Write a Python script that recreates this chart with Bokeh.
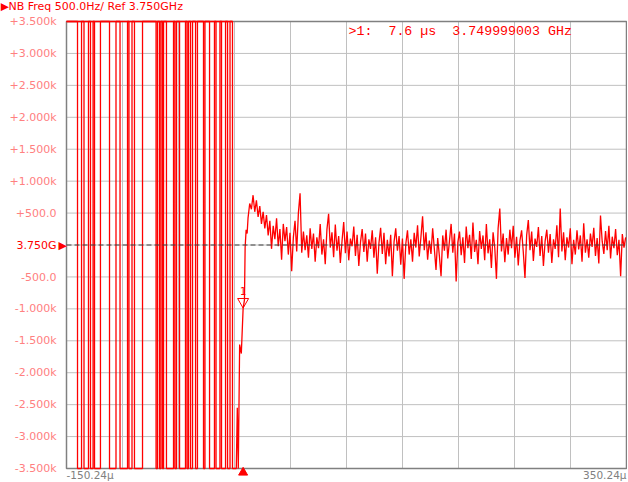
import numpy as np
from bokeh.plotting import figure
from bokeh.models import Range1d
from bokeh.core.properties import value
from bokeh.embed import file_html
from bokeh.resources import INLINE

# ---------------- data ----------------
t_start, t_end = -150.24, 350.24          # µs
hz_min, hz_max = -3500, 3500              # offset from 3.750 GHz, Hz

# times (µs) where the trace wraps between the top and bottom of the screen
wrap_t = [-140.4, -136.8, -134.6, -130.6, -128.8, -126.5, -125.2, -119.9, -111.8,
          -106.0, -102.4, -95.7, -94.4, -91.7, -89.5, -82.3, -70.2, -68.9, -67.1,
          -65.8, -64.4, -63.5, -60.9, -54.6, -53.3, -51.9, -49.2, -43.9, -42.5,
          -41.2, -39.4, -37.6, -34.9, -33.2, -27.8, -26.5, -22.4, -18.0, -16.6,
          -13.1, -11.7, -8.1, -6.3, -4.1, -1.9]

# settling step
step_t = [1.5, 2.4, 3.3, 4.5, 6.0, 7.6, 8.8, 9.4, 10.3, 11.2]
step_hz = [-3500, -2550, -3500, -1560, -1700, -997, -860, -40, 240, 180]

# settled noise, one sample every noise_step µs from noise_start
noise_start = 12.0
noise_step = 1.5
noise_hz = [
    420, 650, 560, 780, 520, 700, 440, 610, 330, 520, 260, 470, 150, 380, -60,
    300, 90, 420, -20, 250, -230, 330, 60, 280, -150, 190, -410, 120, 380, -100,
    500, 810, -120, 210, -80, 150, -200, 260, -60, 180, -260, 120, -50, 330, -150,
    90, -300, 240, 490, -40, 200, -190, 320, -90, 140, -280, 60, 360, -130, 210,
    -240, 100, -20, 290, -170, 160, -330, 40, 250, -110, 180, -260, 90, -60, 230,
    -200, 120, -450, 30, 270, -140, 190, -300, 80, -180, 160, -490, 50, 260, -90,
    140, -310, 100, -530, 20, 230, -150, 90, -260, 190, -40, 310, -180, 120, 450,
    -80, 200, -230, 70, -140, 260, -60, -390, 110, -170, -490, 150, -90, 240, -210,
    60, 330, -120, 180, -570, 40, 210, -160, 120, -280, 290, -50, 160, -220, 350,
    -110, 80, -300, 220, -60, 150, -240, 330, -130, 90, -360, 200, -40, -530, 260,
    570, -100, 180, -270, 110, -150, 240, -50, 300, -200, 130, -320, 70, 230, -110,
    -515, 150, 390, -80, 210, -250, 100, -30, 280, -170, 140, -330, 60, 240, -120,
    170, -280, 90, -60, 310, -190, 570, -100, 200, -240, 120, -40, 260, -300, 80,
    -150, 230, -70, 150, -260, 340, -120, 90, -200, 180, -30, 270, -170, 110, -290,
    460, 60, -140, 220, -80, 300, -210, 130, -50, 250, -160, 80, -490, 170, -40, 120,
]

marker_t = 7.6
marker_hz = -997

ytick_vals = [-3500, -3000, -2500, -2000, -1500, -1000, -500, 0,
              500, 1000, 1500, 2000, 2500, 3000, 3500]
ytick_labels = ["-3.500k", "-3.000k", "-2.500k", "-2.000k", "-1.500k", "-1.000k", "-500.0", "3.750G",
                "+500.0", "+1.000k", "+1.500k", "+2.000k", "+2.500k", "+3.000k", "+3.500k"]
title_text = "NB Freq 500.0Hz/ Ref 3.750GHz"
readout_text = ">1:\u00A0\u00A07.6\u00A0\u00B5s\u00A0\u00A03.749999003\u00A0GHz"
x_left_label = "-150.24\u00B5"
x_right_label = "350.24\u00B5"
n_xdiv = 10

# ---------------- layout (page pixels) ----------------
W, H = 627, 481          # figure size
ORX, ORY = 0, 0          # where the figure sits on the page
FL, FR, FT, FB = 66, 626, 21, 468   # plot area on the page
RED = "#ff0000"
PINK = "#ff8080"
GRAY = "#808080"
FONT = "DejaVu Sans"


def xd(px):
    return t_start + (px - FL) * (t_end - t_start) / (FR - FL)


def yd(py):
    return hz_max - (py - FT) * (hz_max - hz_min) / (FB - FT)


hz_per_px = (hz_max - hz_min) / (FB - FT)

# build trace
xs, ys = [t_start], [hz_max]
cur = hz_max
for t in wrap_t:
    xs.append(t); ys.append(cur)
    cur = hz_min if cur == hz_max else hz_max
    xs.append(t); ys.append(cur)
xs += step_t
ys += step_hz
noise_t = noise_start + noise_step * np.arange(len(noise_hz))
xs += list(noise_t)
ys += noise_hz

p = figure(width=W, height=H,
           x_range=Range1d(xd(ORX), xd(ORX + W)), y_range=Range1d(yd(ORY + H), yd(ORY)),
           output_backend="svg", toolbar_location=None,
           x_axis_location=None, y_axis_location=None,
           min_border=0, min_border_left=0, min_border_right=0,
           min_border_top=0, min_border_bottom=0)
p.grid.visible = False
p.outline_line_color = None
p.background_fill_color = "white"
p.border_fill_color = "white"

# grid
xgrid_ticks = [t_start + k * (t_end - t_start) / n_xdiv for k in range(n_xdiv + 1)]
p.segment(x0=xgrid_ticks, y0=hz_min, x1=xgrid_ticks, y1=hz_max, line_color="#c0c0c0", line_width=1)
p.segment(x0=t_start, y0=ytick_vals, x1=t_end, y1=ytick_vals, line_color="#c0c0c0", line_width=1)

# frame
p.quad(left=[t_start], right=[t_end], bottom=[hz_min], top=[hz_max],
       fill_color=None, line_color=GRAY, line_width=1.5)

# trace (clipped at the top of the screen while wrapping)
p.line([t_start, wrap_t[-1]], [hz_max, hz_max], line_color=RED, line_width=1.5)
p.line(xs, ys, line_color=RED, line_width=1.3)

# reference line
p.line([t_start, t_end], [0, 0], line_color="#404040", line_dash="5 3", line_width=1.2)

# y tick labels
ylab_colors = [RED if v == 0 else PINK for v in ytick_vals]
p.text(x=[xd(56)] * len(ytick_vals), y=ytick_vals, text=ytick_labels,
       text_align="right", text_baseline="middle", text_color=ylab_colors,
       text_font=value(FONT), text_font_size=value("11px"))
# reference arrow
p.text(x=[xd(58)], y=[0], text=["\u25B6"], text_align="left", text_baseline="middle",
       text_color=RED, text_font=value(FONT), text_font_size=value("11px"))

# title
p.text(x=[xd(0)], y=[yd(6)], text=["\u25B6"], text_align="left", text_baseline="middle",
       text_color=RED, text_font=value(FONT), text_font_size=value("11px"))
p.text(x=[xd(8)], y=[yd(6)], text=[title_text], text_align="left", text_baseline="middle",
       text_color=RED, text_font=value(FONT), text_font_size=value("11px"))

# marker readout
p.text(x=[xd(348)], y=[yd(31)], text=[readout_text], text_align="left", text_baseline="middle",
       text_color=RED, text_font=value("Liberation Mono"), text_font_size=value("13.3px"))

# marker 1
p.scatter([marker_t], [marker_hz + 7 * hz_per_px], marker="inverted_triangle",
          size=11, fill_color=None, line_color=RED, line_width=1)
p.text(x=[marker_t], y=[marker_hz + 14 * hz_per_px], text=["1"], text_align="center",
       text_baseline="bottom", text_color=RED,
       text_font=value(FONT), text_font_size=value("10px"))
p.scatter([marker_t], [hz_min - 4 * hz_per_px], marker="triangle", size=9,
          fill_color=RED, line_color=RED)

# x end labels
p.text(x=[t_start], y=[hz_min - 6 * hz_per_px], text=[x_left_label], text_align="left",
       text_baseline="middle", text_color=GRAY,
       text_font=value(FONT), text_font_size=value("10.5px"))
p.text(x=[t_end], y=[hz_min - 6 * hz_per_px], text=[x_right_label], text_align="right",
       text_baseline="middle", text_color=GRAY,
       text_font=value(FONT), text_font_size=value("10.5px"))

open("out.html", "w").write(file_html(p, INLINE))
